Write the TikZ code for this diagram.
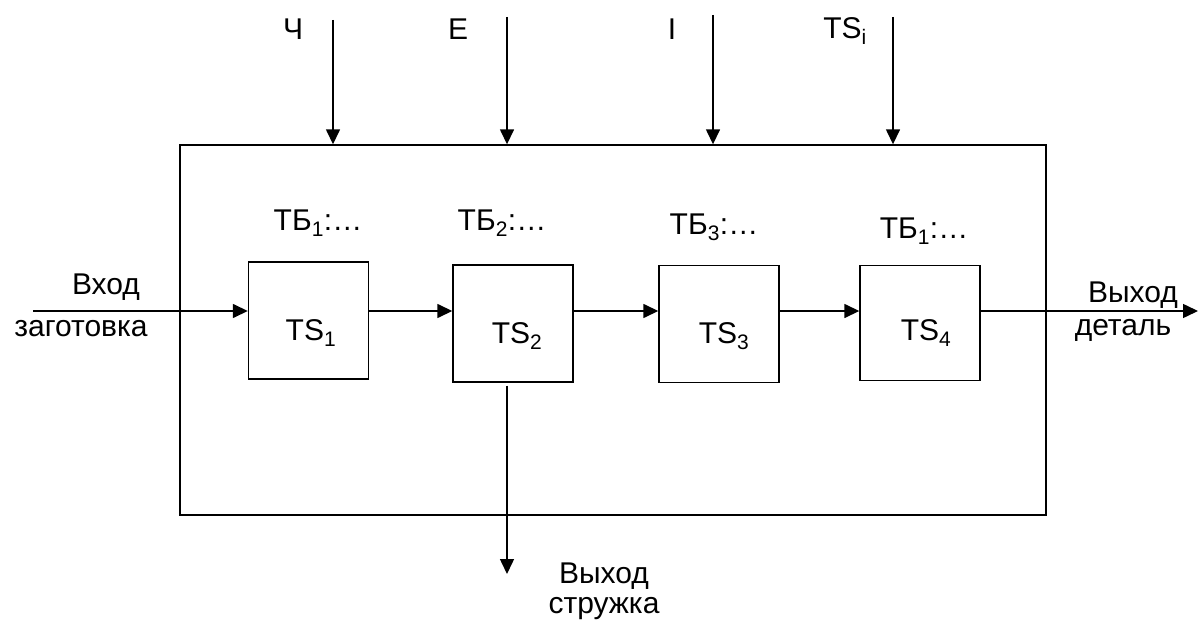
\documentclass[tikz,border=0pt]{standalone}
\usepackage{fontspec}
\setmainfont{Liberation Sans}
\usetikzlibrary{arrows.meta}
\begin{document}
\begin{tikzpicture}[x=1pt,y=-1pt,
  box/.style={draw,line width=1.4pt,inner sep=0pt},
  lbl/.style={font=\fontsize{30}{33}\selectfont,inner sep=0pt},
  arr/.style={line width=1.5pt,-{Triangle[length=15pt,width=14pt]}}]
\useasboundingbox (0,0) rectangle (1198,628);
\node[box,minimum width=866pt,minimum height=370pt] (outer) at (613,330) {};
\node[box,minimum width=120pt,minimum height=117pt] (s1) at (308.5,320.5) {};
\node[lbl] (n1) at (311,333) {TS\textsubscript{1}};
\node[box,minimum width=120pt,minimum height=117pt] (s2) at (513,323.5) {};
\node[lbl] (n2) at (517,336) {TS\textsubscript{2}};
\node[box,minimum width=120pt,minimum height=117pt] (s3) at (719,324) {};
\node[lbl] (n3) at (724,336) {TS\textsubscript{3}};
\node[box,minimum width=120pt,minimum height=115pt] (s4) at (920,323) {};
\node[lbl] (n4) at (926,333) {TS\textsubscript{4}};
\node[lbl] (b1) at (318,223) {ТБ\textsubscript{1}:…};
\node[lbl] (b2) at (502,223) {ТБ\textsubscript{2}:…};
\node[lbl] (b3) at (714,227) {ТБ\textsubscript{3}:…};
\node[lbl] (b4) at (924,231) {ТБ\textsubscript{1}:…};
\node[lbl] (lch) at (293,29) {Ч};
\node[lbl] (le) at (458,29) {E};
\node[lbl] (li) at (672,29) {I};
\node[lbl] (lts) at (845,31) {TS\textsubscript{i}};
\node[lbl] (vin) at (106,287) {Вход};
\node[lbl] (zag) at (81,329) {заготовка};
\node[lbl] (vout) at (1133,295) {Выход};
\node[lbl] (det) at (1123,330) {деталь};
\node[lbl] (vout2) at (604,576) {Выход};
\node[lbl] (str) at (604,609) {стружка};
\coordinate (t1) at (333,20);
\coordinate (t2) at (507,17);
\coordinate (t3) at (713,15);
\coordinate (t4) at (893,17);
\coordinate (in) at (33,311);
\coordinate (out) at (1198,311);
\coordinate (chip) at (507,574);
\draw[arr] (t1) -- (t1 |- outer.north);
\draw[arr] (t2) -- (t2 |- outer.north);
\draw[arr] (t3) -- (t3 |- outer.north);
\draw[arr] (t4) -- (t4 |- outer.north);
\draw[arr] (in) -- (in -| s1.west);
\draw[arr] (s1.east |- in) -- (s2.west |- in);
\draw[arr] (s2.east |- in) -- (s3.west |- in);
\draw[arr] (s3.east |- in) -- (s4.west |- in);
\draw[arr] (s4.east |- in) -- (out);
\draw[arr] ([yshift=-3pt]chip |- s2.south) -- (chip);
\end{tikzpicture}
\end{document}
